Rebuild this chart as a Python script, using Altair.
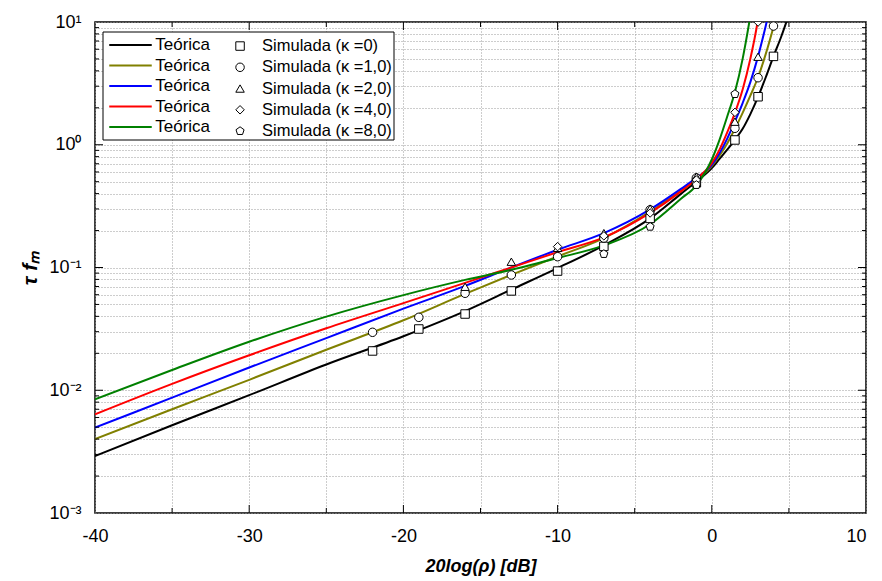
import altair as alt
import pandas as pd

# ---------------- data (log10 of tau*f_m) ----------------
x_theory = [-40, -35, -30, -25, -20, -16, -13, -10, -7, -4, -2, -1, 0, 0.5, 1, 1.5, 2, 2.5, 3, 3.5, 4, 4.5, 5, 5.5]
log_teo_k0 = [-2.536, -2.285, -2.04, -1.79, -1.56, -1.355, -1.18, -1.005, -0.82, -0.60, -0.40, -0.30, -0.19,
              -0.115, -0.04, 0.04, 0.13, 0.25, 0.39, 0.55, 0.72, 0.88, 1.06, 1.25]
log_teo_k1 = [-2.397, -2.155, -1.915, -1.67, -1.43, -1.215, -1.06, -0.91, -0.76, -0.545, -0.375, -0.285, -0.175,
              -0.09, 0.01, 0.13, 0.26, 0.40, 0.55, 0.74, 0.96, 1.20, 1.45]
log_teo_k2 = [-2.305, -2.06, -1.815, -1.575, -1.335, -1.15, -1.00, -0.855, -0.72, -0.527, -0.36, -0.27, -0.165,
              -0.07, 0.05, 0.19, 0.34, 0.51, 0.72, 0.97, 1.25, 1.55]
log_teo_k4 = [-2.196, -1.948, -1.715, -1.495, -1.29, -1.125, -1.00, -0.875, -0.755, -0.555, -0.38, -0.28, -0.15,
              -0.04, 0.10, 0.26, 0.45, 0.70, 1.02, 1.45]
log_teo_k8 = [-2.074, -1.835, -1.605, -1.40, -1.225, -1.101, -1.019, -0.923, -0.82, -0.648, -0.44, -0.33, -0.12,
              0.04, 0.23, 0.43, 0.70, 1.05, 1.45]

sim_x_k0 = [-22, -19, -16, -13, -10, -7, -4, -1, 1.5, 3, 4]
log_sim_k0 = [-1.680, -1.501, -1.379, -1.191, -1.029, -0.828, -0.60, -0.31, 0.039, 0.391, 0.72]
sim_x_k1 = [-22, -19, -16, -13, -10, -7, -4, -1, 1.5, 3, 4]
log_sim_k1 = [-1.528, -1.406, -1.210, -1.061, -0.912, -0.76, -0.53, -0.27, 0.134, 0.546, 0.967]
sim_x_k2 = [-16, -13, -10, -7, -4, -1, 1.5, 3]
log_sim_k2 = [-1.157, -0.953, -0.84, -0.72, -0.52, -0.26, 0.188, 0.717]
sim_x_k4 = [-10, -7, -4, -1, 1.5, 3]
log_sim_k4 = [-0.83, -0.742, -0.556, -0.287, 0.264, 1.0]
sim_x_k8 = [-7, -4, -1, 1.5]
log_sim_k8 = [-0.89, -0.668, -0.328, 0.413]

line_keys = ["t0", "t1", "t2", "t4", "t8"]
sim_keys = ["0", "1,0", "2,0", "4,0", "8,0"]
line_colors = ["#000000", "#808000", "#0000ff", "#ff0000", "#008000"]
PENTAGON = "M0,-1L0.951,-0.309L0.588,0.809L-0.588,0.809L-0.951,-0.309Z"
sim_shapes = ["square", "circle", "triangle-up", "diamond", PENTAGON]

x_grid = [-40, -35, -30, -25, -20, -15, -10, -5, 0, 5, 10]
y_grid = [0.001, 0.002, 0.003, 0.004, 0.005, 0.006, 0.007, 0.008, 0.009,
          0.01, 0.02, 0.03, 0.04, 0.05, 0.06, 0.07, 0.08, 0.09,
          0.1, 0.2, 0.3, 0.4, 0.5, 0.6, 0.7, 0.8, 0.9,
          1, 2, 3, 4, 5, 6, 7, 8, 9, 10]
x_major_ticks = [-30, -20, -10, 0]
x_minor_ticks = [-35, -25, -15, -5, 5]
y_major_ticks = [0.01, 0.1, 1]
y_minor_ticks = [v for v in y_grid if v not in (0.001, 0.01, 0.1, 1, 10)]

# ---------------- tables ----------------
rows = []
for key, ys in zip(line_keys, [log_teo_k0, log_teo_k1, log_teo_k2, log_teo_k4, log_teo_k8]):
    for xv, ly in zip(x_theory, ys):
        rows.append({"x": xv, "v": 10 ** ly, "k": key})
lines_df = pd.DataFrame(rows)

rows = []
for key, xs, ys in zip(sim_keys, [sim_x_k0, sim_x_k1, sim_x_k2, sim_x_k4, sim_x_k8],
                       [log_sim_k0, log_sim_k1, log_sim_k2, log_sim_k4, log_sim_k8]):
    for xv, ly in zip(xs, ys):
        rows.append({"x": xv, "v": 10 ** ly, "s": key})
sim_df = pd.DataFrame(rows)

W, H = 771, 491
FONT = "Liberation Sans"
FS = 18

x_scale = alt.Scale(domain=[-40, 10], nice=False, zero=False)
y_scale = alt.Scale(type="log", domain=[0.001, 10], nice=False)

x_axis = alt.Axis(
    values=x_grid, title="20log(ρ) [dB]", grid=True, ticks=False, domain=False,
    labelExpr="datum.value % 10 === 0 ? '' + datum.value : ''",
    labelAlign={"condition": {"test": "datum.value === 10", "value": "right"}, "value": "center"},
    labelFont=FONT, labelFontSize=FS, labelColor="black", labelPadding=14, labelFlush=False,
    titleFont=FONT, titleFontSize=FS, titleFontStyle="italic", titleFontWeight="bold",
    titleColor="black", titlePadding=12,
)
y_axis = alt.Axis(
    values=y_grid, title="τ fₘ", grid=True, ticks=False, domain=False,
    labelExpr=("datum.value == 10 ? '10¹' : datum.value == 1 ? '10⁰' : datum.value == 0.1 ? '10⁻¹' : "
               "datum.value == 0.01 ? '10⁻²' : datum.value == 0.001 ? '10⁻³' : ''"),
    labelFont=FONT, labelFontSize=FS, labelColor="black", labelPadding=14, labelFlush=False,
    titleFont=FONT, titleFontSize=21, titleFontStyle="italic", titleFontWeight="bold",
    titleColor="black", titlePadding=8,
)

frame = alt.Chart(alt.Data(values=[{"a": 1}])).mark_rect(
    fill="white", stroke="black", strokeWidth=1
).encode(x=alt.value(8), x2=alt.value(299), y=alt.value(10), y2=alt.value(118))

lines = alt.Chart(lines_df).mark_line(strokeWidth=2, clip=True, interpolate="monotone").encode(
    x=alt.X("x:Q", scale=x_scale, axis=x_axis),
    y=alt.Y("v:Q", scale=y_scale, axis=y_axis),
    color=alt.Color(
        "k:N", scale=alt.Scale(domain=line_keys, range=line_colors),
        legend=alt.Legend(
            title=None, orient="none", legendX=26, legendY=13.5, direction="vertical",
            labelExpr="'Teórica'", symbolType="M-2.5,0L2.5,0", symbolSize=289, symbolStrokeWidth=2,
            labelFont=FONT, labelFontSize=17, labelColor="black", labelOffset=15.25,
            rowPadding=2.5, padding=0, labelLimit=400,
        ),
    ),
)

points = alt.Chart(sim_df).mark_point(
    filled=True, fill="white", stroke="black", strokeWidth=1, size=72,
    opacity=1, fillOpacity=1, strokeOpacity=1, clip=True
).encode(
    x=alt.X("x:Q", scale=x_scale, axis=x_axis),
    y=alt.Y("v:Q", scale=y_scale, axis=y_axis),
    shape=alt.Shape(
        "s:N", scale=alt.Scale(domain=sim_keys, range=sim_shapes),
        legend=alt.Legend(
            title=None, orient="none", legendX=140.8, legendY=15.8, direction="vertical",
            labelExpr="'Simulada (κ =' + datum.label + ')'", symbolSize=72,
            symbolOpacity=1, symbolStrokeWidth=1, symbolOffset=-4,
            labelFont=FONT, labelFontSize=16.5, labelColor="black", labelOffset=13.8,
            rowPadding=4.25, padding=0, labelLimit=400,
        ),
    ),
)


def xticks(vals, y0, y1):
    return alt.Chart(pd.DataFrame({"x": vals})).mark_rule(color="black", strokeWidth=1).encode(
        x=alt.X("x:Q", scale=x_scale, axis=x_axis), y=alt.value(y0), y2=alt.value(y1))


def yticks(vals, x0, x1):
    return alt.Chart(pd.DataFrame({"v": vals})).mark_rule(color="black", strokeWidth=1).encode(
        y=alt.Y("v:Q", scale=y_scale, axis=y_axis), x=alt.value(x0), x2=alt.value(x1))


ticks = [
    xticks(x_major_ticks, H, H - 8), xticks(x_minor_ticks, H, H - 5),
    xticks(x_major_ticks, 0, 8), xticks(x_minor_ticks, 0, 5),
    yticks(y_major_ticks, 0, 8), yticks(y_minor_ticks, 0, 4),
    yticks(y_major_ticks, W, W - 8), yticks(y_minor_ticks, W, W - 4),
]

chart = alt.layer(frame, lines, points, *ticks).properties(
    width=W, height=H,
    autosize=alt.AutoSizeParams(type="none"),
    padding={"left": 87, "top": 14, "right": 8, "bottom": 66},
).configure_view(stroke="black", strokeWidth=1.5).configure_axis(
    gridColor="#9a9a9a", gridDash=[1, 2], gridWidth=1, gridOpacity=1
)

chart.save("out.html", embed_options={"renderer": "svg", "actions": False})
